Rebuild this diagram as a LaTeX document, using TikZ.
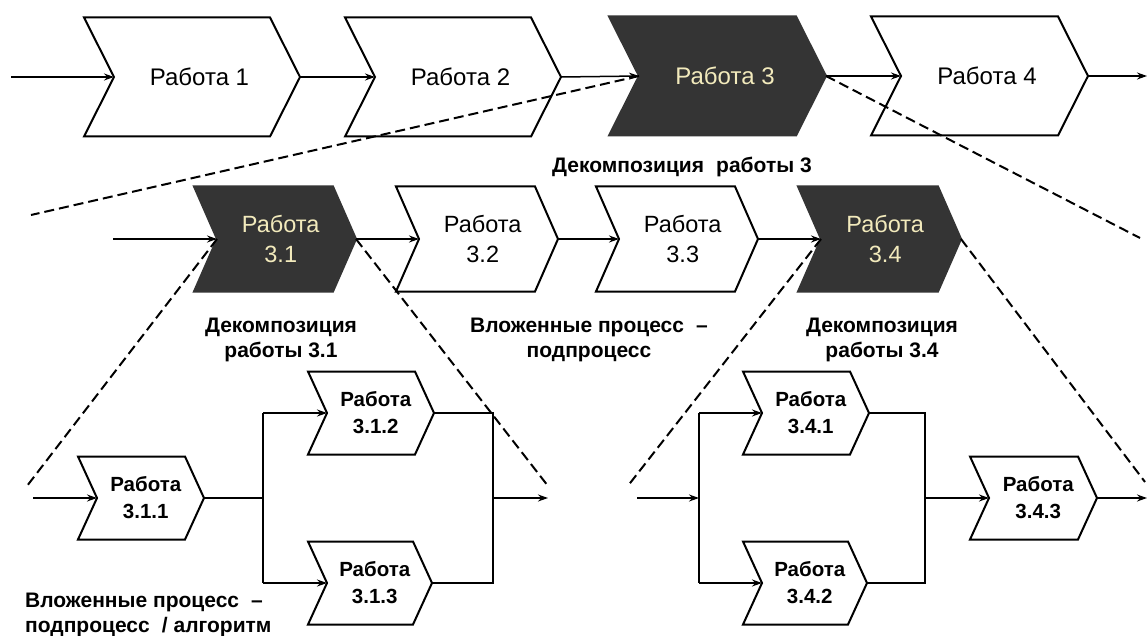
\documentclass[tikz,border=0pt]{standalone}
\usepackage{fontspec}
\setmainfont{Liberation Sans}
\usetikzlibrary{arrows.meta}
\definecolor{darkbox}{RGB}{52,52,52}
\definecolor{lighttext}{RGB}{242,234,188}

\newcommand{\chev}[9]{%
  \path[#7] (#2,{#3-#5/2}) -- ({#2+#4-#6},{#3-#5/2}) -- ({#2+#4},#3) -- ({#2+#4-#6},{#3+#5/2}) -- (#2,{#3+#5/2}) -- ({#2+#6},#3) -- cycle;
  \coordinate (#1-in) at ({#2+#6},#3);
  \coordinate (#1-out) at ({#2+#4},#3);
  \node[#8] (#1) at ({#2+#4/2+#6/4},#3) {#9};
}

\tikzset{
  boxwhite/.style={draw=black, line width=2pt, fill=white, line join=miter},
  boxdark/.style={draw=darkbox, line width=2pt, fill=darkbox, line join=miter},
  conn/.style={draw=black, line width=1.5pt, -{Stealth[length=10pt,width=7pt]}},
  plainline/.style={draw=black, line width=1.5pt, line join=miter},
  dashline/.style={draw=black, line width=2pt, dash pattern=on 10pt off 5pt},
  txtbig/.style={font=\fontsize{24}{28}\selectfont, align=center, inner sep=0pt},
  txtmid/.style={font=\fontsize{23.5}{30}\selectfont, align=center, inner sep=0pt},
  txtsmall/.style={font=\bfseries\fontsize{20.5}{27}\selectfont, align=center, inner sep=0pt},
  caption/.style={font=\bfseries\fontsize{21}{25}\selectfont, align=center, inner sep=0pt},
  onwhite/.style={text=black},
  ondark/.style={text=lighttext},
}

\begin{document}
\begin{tikzpicture}[x=1pt, y=-1pt]
\fill[white] (0,0) rectangle (1147,636);
\useasboundingbox (0,0) rectangle (1147,636);

% top row
\chev{r1}{84}{77}{216}{119}{30}{boxwhite}{txtbig,onwhite}{Работа 1}
\chev{r2}{345}{77}{216}{119}{30}{boxwhite}{txtbig,onwhite}{Работа 2}
\chev{r3}{609}{76}{217}{119}{30}{boxdark}{txtbig,ondark}{Работа 3}
\chev{r4}{871}{76}{217}{119}{30}{boxwhite}{txtbig,onwhite}{Работа 4}
\coordinate (s0) at (11,77);
\coordinate (e0) at (1147,76);
\draw[conn] (s0) -- (r1-in);
\draw[conn] (r1-out) -- (r2-in);
\draw[conn] (r2-out) -- (r3-in);
\draw[conn] (r3-out) -- (r4-in);
\draw[conn] (r4-out) -- (e0);

\node[caption] (cap3) at (682,167) {Декомпозиция\hspace{0.3em} работы 3};

% middle row
\chev{r31}{194}{239}{162}{105}{23}{boxdark}{txtmid,ondark}{Работа\\3.1}
\chev{r32}{396}{239}{162}{105}{23}{boxwhite}{txtmid,onwhite}{Работа\\3.2}
\chev{r33}{596}{239}{162}{105}{23}{boxwhite}{txtmid,onwhite}{Работа\\3.3}
\chev{r34}{798}{239}{163}{105}{23}{boxdark}{txtmid,ondark}{Работа\\3.4}
\coordinate (s1) at (113,239);
\draw[conn] (s1) -- (r31-in);
\draw[conn] (r31-out) -- (r32-in);
\draw[conn] (r32-out) -- (r33-in);
\draw[conn] (r33-out) -- (r34-in);

\node[caption] (cap31) at (281,340) {Декомпозиция\\работы 3.1};
\node[caption] (capsub) at (589,340) {Вложенные процесс\hspace{0.3em} –\\подпроцесс};
\node[caption] (cap34) at (882,340) {Декомпозиция\\работы 3.4};

% bottom left group
\chev{r311}{78}{498}{126}{83}{19}{boxwhite}{txtsmall,onwhite}{Работа\\3.1.1}
\chev{r312}{308}{413}{126}{83}{19}{boxwhite}{txtsmall,onwhite}{Работа\\3.1.2}
\chev{r313}{308}{583}{124}{83}{19}{boxwhite}{txtsmall,onwhite}{Работа\\3.1.3}
\coordinate (s2) at (33,498);
\coordinate (ja) at (263,413);
\coordinate (jm) at (263,498);
\coordinate (jb) at (263,583);
\coordinate (ka) at (493,413);
\coordinate (km) at (493,498);
\coordinate (kb) at (493,583);
\coordinate (ke) at (548,498);
\draw[conn] (s2) -- (r311-in);
\draw[plainline] (r311-out) -- (jm);
\draw[plainline] (ja) -- (jb);
\draw[conn] (ja) -- (r312-in);
\draw[conn] (jb) -- (r313-in);
\draw[plainline] (r312-out) -- (ka) -- (kb) -- (r313-out);
\draw[conn] (km) -- (ke);

\node[caption, align=left, anchor=west] (capalg) at (25,615) {Вложенные процесс\hspace{0.3em} –\\подпроцесс\hspace{0.3em} / алгоритм};

% bottom right group
\chev{r341}{743}{413}{126}{83}{19}{boxwhite}{txtsmall,onwhite}{Работа\\3.4.1}
\chev{r342}{743}{583}{124}{83}{19}{boxwhite}{txtsmall,onwhite}{Работа\\3.4.2}
\chev{r343}{970}{498}{127}{83}{19}{boxwhite}{txtsmall,onwhite}{Работа\\3.4.3}
\coordinate (s3) at (637,498);
\coordinate (la) at (699,413);
\coordinate (lm) at (699,498);
\coordinate (lb) at (699,583);
\coordinate (ma) at (925,413);
\coordinate (mm) at (925,498);
\coordinate (mb) at (925,583);
\coordinate (e3) at (1147,498);
\draw[conn] (s3) -- (lm);
\draw[plainline] (la) -- (lb);
\draw[conn] (la) -- (r341-in);
\draw[conn] (lb) -- (r342-in);
\draw[plainline] (r341-out) -- (ma) -- (mb) -- (r342-out);
\draw[conn] (mm) -- (r343-in);
\draw[conn] (r343-out) -- (e3);

% dashed decomposition lines
\coordinate (d1) at (31,215);
\coordinate (d2) at (1140,238);
\coordinate (d3) at (27,486);
\coordinate (d4) at (548,486);
\coordinate (d5) at (627,487);
\coordinate (d6) at (1145,482);
\draw[dashline] (r3-in) -- (d1);
\draw[dashline] (r3-out) -- (d2);
\draw[dashline] (r31-in) -- (d3);
\draw[dashline] (r31-out) -- (d4);
\draw[dashline] (r34-in) -- (d5);
\draw[dashline] (r34-out) -- (d6);
\end{tikzpicture}
\end{document}
